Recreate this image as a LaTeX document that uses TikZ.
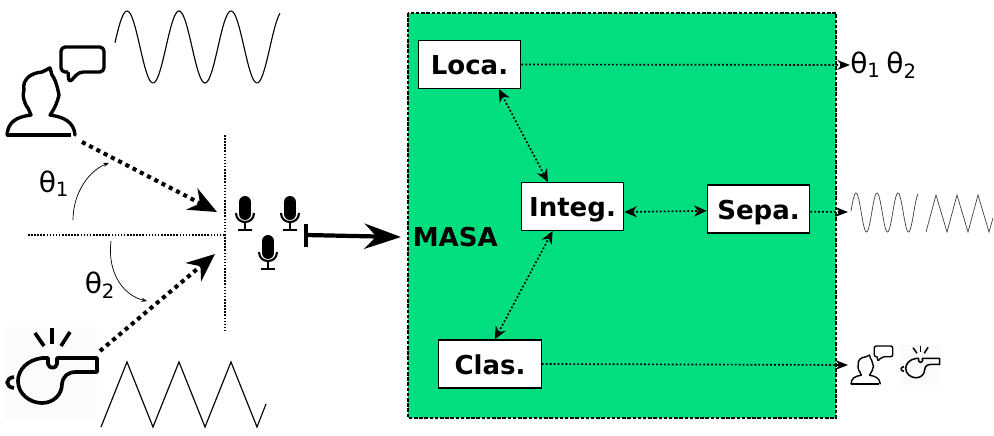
\documentclass[tikz,border=0pt]{standalone}
\usepackage{fontspec}
\usepackage{xcolor}
\setmainfont{DejaVu Sans}
\usetikzlibrary{arrows.meta}
\definecolor{masagreen}{HTML}{00DE80}
\definecolor{iconback}{HTML}{FBFBFB}
\newcommand{\personicon}[2]{%
  \draw[line width=#1,line join=round] (7,135) -- (71,135);
  \draw[line width=#1,line join=round,line cap=round] (7,135) .. controls (8,122) and (16,117) .. (31,115) -- (28,108) .. controls (24,104) and (22,94) .. (24,90) .. controls (22,80) and (30,73) .. (42,72) -- (50,68) -- (52,75) .. controls (56,80) and (58,90) .. (59,95) .. controls (57,103) and (55,108) .. (50,115) .. controls (64,117) and (74,122) .. (75,135);
  \draw[line width=#1,line join=round,rounded corners=#2] (68,72) -- (61,72) -- (61,47) -- (104,47) -- (104,72) -- (79,72) -- (69,83) -- (68,72);
}
\newcommand{\whistleicon}[1]{%
  \fill[iconback] (5,327) rectangle (97,419);
  \draw[line width=#1,line join=round] (97,358) -- (57,358) -- (57,364) .. controls (56,369) and (49,369) .. (48,364) -- (48,358) -- (42,358) .. controls (27,360) and (18,370) .. (18,381) .. controls (18,394) and (30,403) .. (42,403) .. controls (54,403) and (62,394) .. (62,384) .. controls (63,376) and (68,372) .. (76,372) -- (97,372) -- cycle;
  \draw[line width=#1] (14,377) .. controls (5,378) and (5,387) .. (14,388);
  \draw[line width=#1] (35,333) -- (44,346);
  \draw[line width=#1] (52,328) -- (52,344);
  \draw[line width=#1] (70,332) -- (61,346);
}
\newcommand{\micicon}{%
  \draw[line width=8.5pt,line cap=round] (0,-28) -- (0,-16);
  \draw[line width=1.5pt] (-9,-17) .. controls (-9,-5) and (9,-5) .. (9,-17);
  \draw[line width=1.5pt] (0,-8) -- (0,0);
  \draw[line width=1.5pt] (-7,0) -- (7,0);
}
\tikzset{
  blockbox/.style={draw=black,fill=white,line width=0.8pt,inner sep=0pt,minimum width=102.5*0.025cm,minimum height=48*0.025cm,text height=14.5pt,text depth=0pt,font=\fontsize{18.5}{21}\selectfont\bfseries},
  angletext/.style={font=\fontsize{20}{24}\selectfont,inner sep=0pt},
  linkarrow/.style={line width=1.2pt,dash pattern=on 1.3pt off 1.5pt,{Stealth[length=9pt,width=8pt]}-{Stealth[length=9pt,width=8pt]}},
  outarrow/.style={line width=1.2pt,dash pattern=on 1.3pt off 1.5pt,-{Stealth[length=9pt,width=7pt]}},
  sourcearrow/.style={line width=2.9pt,dash pattern=on 2.9pt off 2.9pt,-{Stealth[length=20pt,width=17pt]}},
  guideline/.style={line width=1.1pt,dash pattern=on 1.1pt off 1.1pt},
}
\begin{document}
\begin{tikzpicture}[x=0.025cm,y=-0.025cm]
  \useasboundingbox (0,0) rectangle (994,435);

  \fill[masagreen] (408,13) rectangle (836,418);
  \draw[line width=1.1pt,dash pattern=on 2.5pt off 1.2pt] (408,13) rectangle (836,418);

  \personicon{2.4pt}{3pt}
  \whistleicon{2.6pt}
  \begin{scope}[shift={(848.0,325.8)},scale=0.43]
    \personicon{1pt}{1.5pt}
  \end{scope}
  \begin{scope}[shift={(898.0,204.5)},scale=0.43]
    \whistleicon{1.1pt}
  \end{scope}

  \draw[line width=0.8pt,domain=115:280,samples=120,smooth] plot (\x,{47-36*cos((\x-127)/52*360)});
  \draw[line width=0.8pt] (101,427) -- (127,362) -- (153,427) -- (179,362) -- (205,427) -- (231,362) -- (257,427) -- (266,404);
  \draw[line width=0.5pt,black!75,domain=851:918,samples=120,smooth] plot (\x,{212.5-19.5*cos((\x-856)/21*360)});
  \draw[line width=0.5pt,black!75] (926,232) -- (936,195) -- (947,232) -- (957,195) -- (968,232) -- (978,195) -- (989,232) -- (993,218);

  \coordinate (wallbottom) at (225,330);
  \coordinate (walltop) at (225,135);
  \coordinate (axisleft) at (28,235);
  \coordinate (axisright) at (225,235);
  \draw[guideline] (walltop) -- (wallbottom);
  \draw[guideline] (axisleft) -- (axisright);

  \coordinate (speakerout) at (82,142);
  \coordinate (speakerin) at (217,212);
  \coordinate (whistleout) at (100,351);
  \coordinate (whistlein) at (215,254);
  \draw[sourcearrow] (speakerout) -- (speakerin);
  \draw[sourcearrow] (whistleout) -- (whistlein);

  \coordinate (angleonestart) at (73,220);
  \coordinate (angleoneend) at (109,163);
  \coordinate (angletwostart) at (111,241);
  \coordinate (angletwoend) at (147,301);
  \draw[line width=0.5pt,-{Stealth[length=4pt,width=3pt]}] (angleonestart) .. controls (73,192) and (90,170) .. (angleoneend);
  \draw[line width=0.5pt,-{Stealth[length=4pt,width=3pt]}] (angletwostart) .. controls (107,275) and (125,296) .. (angletwoend);
  \node[angletext] (thetaone) at (54,184) {θ\textsubscript{1}};
  \node[angletext] (thetatwo) at (100,285) {θ\textsubscript{2}};

  \begin{scope}[shift={(245,230)}]
    \micicon
  \end{scope}
  \begin{scope}[shift={(290,230)}]
    \micicon
  \end{scope}
  \begin{scope}[shift={(268,269)}]
    \micicon
  \end{scope}

  \coordinate (arraybartop) at (306,224);
  \coordinate (arraybarbottom) at (306,247);
  \coordinate (arrayout) at (306,235);
  \coordinate (masain) at (401,237);
  \draw[line width=2.4pt] (arraybartop) -- (arraybarbottom);
  \draw[line width=3pt,-{Stealth[length=26pt,width=18pt]}] (arrayout) -- (masain);
  \node[anchor=west,inner sep=0pt,font=\fontsize{18.5}{21}\selectfont\bfseries] (masa) at (412.5,237) {MASA};

  \node[blockbox] (loca) at (469.5,64.5) {Loca.};
  \node[blockbox] (integ) at (572.5,206.5) {Integ.};
  \node[blockbox] (sepa) at (758.5,209) {Sepa.};
  \node[blockbox] (clas) at (490,364) {Clas.};

  \draw[linkarrow] (loca.-40) -- (integ.135);
  \draw[linkarrow] (clas.79) -- (integ.-129);
  \draw[linkarrow] (integ.-6) -- (sepa.182);

  \node[anchor=west,inner sep=0pt,font=\fontsize{20}{24}\selectfont] (thetaout) at (850,65) {θ\textsubscript{1}\hspace{0.2em}θ\textsubscript{2}};
  \coordinate (sepaout) at (848,212);
  \coordinate (clasout) at (848,365);
  \draw[outarrow] (loca.east) -- (thetaout.west);
  \draw[outarrow] (sepa.-3) -- (sepaout);
  \draw[outarrow] (clas.east) -- (clasout);
\end{tikzpicture}
\end{document}
